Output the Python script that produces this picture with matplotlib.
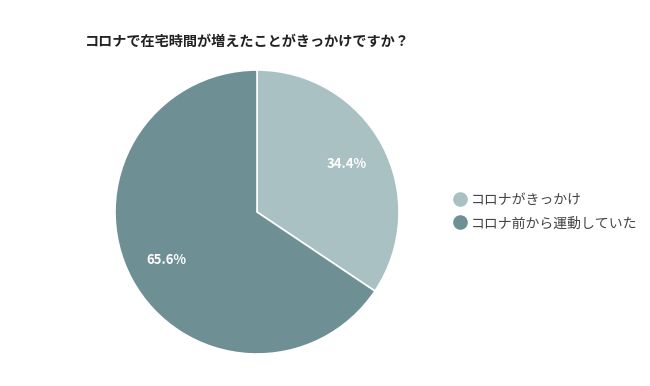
import matplotlib
matplotlib.use("Agg")
import matplotlib.pyplot as plt
from matplotlib.lines import Line2D

plt.rcParams['font.family'] = ['Noto Sans CJK JP', 'DejaVu Sans']

title = "コロナで在宅時間が増えたことがきっかけですか？"
labels = ["コロナがきっかけ", "コロナ前から運動していた"]
values = [34.4, 65.6]
colors = ["#A9C1C2", "#6E9095"]

fig = plt.figure(figsize=(6.5, 3.86), dpi=100)
fig.patch.set_facecolor("white")

cx, cy, r = 257, 212, 142
W, H = 650, 386
ax = fig.add_axes([(cx - r) / W, (H - cy - r) / H, 2 * r / W, 2 * r / H])
wedges, texts, autotexts = ax.pie(
    values, colors=colors, startangle=90, counterclock=False,
    autopct=lambda p: f"{p:.1f}%", pctdistance=0.72,
    wedgeprops=dict(edgecolor="white", linewidth=1.2),
    textprops=dict(color="white", fontsize=9.5, fontweight="bold"),
)
ax.set_aspect("equal")
ax.set_xlim(-1, 1)
ax.set_ylim(-1, 1)
ax.axis("off")

fig.text(85 / W, 1 - 42 / H, title, fontsize=10.2, fontweight="bold",
         color="#222222", va="center", ha="left")

handles = [Line2D([0], [0], marker="o", linestyle="none", markersize=9.5,
                  markerfacecolor=c, markeredgecolor=c) for c in colors]
fig.legend(handles, labels, loc="center left",
           bbox_to_anchor=(446 / W, 1 - 211.5 / H), frameon=False,
           fontsize=10, labelcolor="#444444", handletextpad=0.3,
           labelspacing=0.7, handlelength=1.0, borderpad=0)

fig.savefig("out.png", dpi=100, facecolor="white")
